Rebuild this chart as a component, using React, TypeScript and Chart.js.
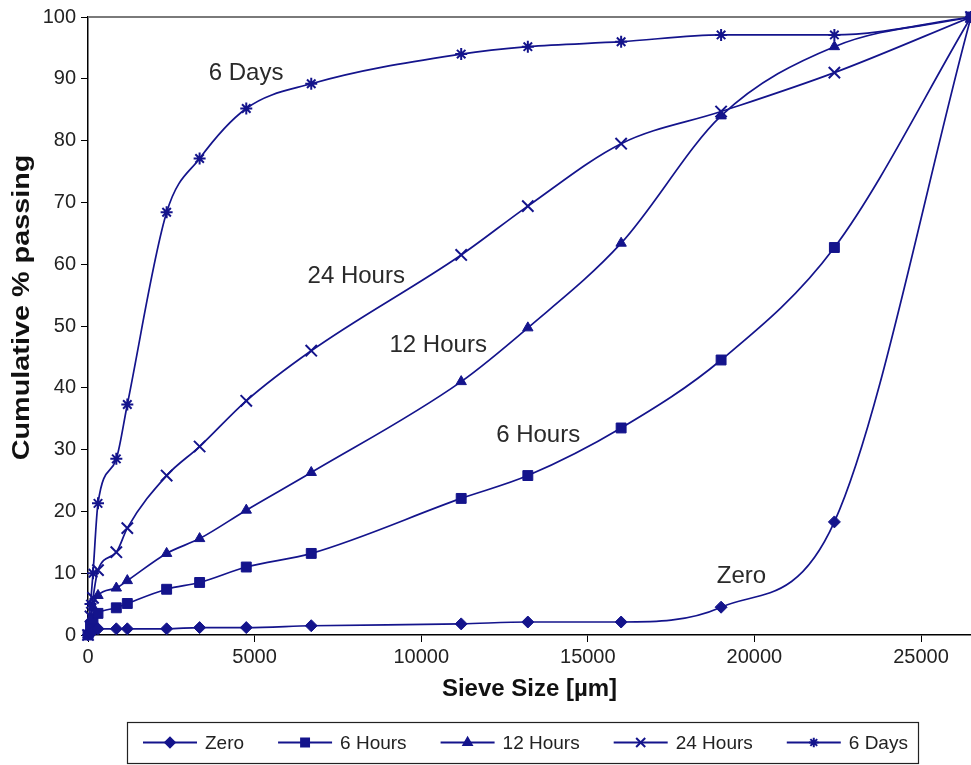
import { useEffect, useRef } from 'react';
import { Chart, registerables } from 'chart.js';
import { drawPoint } from 'chart.js/helpers';

Chart.register(...registerables);

// Sieve openings (µm) and cumulative % passing for each grinding time
const sieveSizes = [0, 75, 150, 300, 850, 1180, 2360, 3350, 4750, 6700, 11200, 13200, 16000, 19000, 22400, 26500];
const zero = [0, 0.3, 0.6, 1.0, 1.0, 1.0, 1.0, 1.2, 1.2, 1.5, 1.8, 2.1, 2.1, 4.5, 18.3, 100];
const sixHours = [0, 1.5, 2.5, 3.5, 4.4, 5.1, 7.4, 8.5, 11.0, 13.2, 22.1, 25.8, 33.5, 44.5, 62.7, 100];
const twelveHours = [0, 2.5, 4.5, 6.4, 7.6, 8.8, 13.2, 15.6, 20.2, 26.3, 41.0, 49.7, 63.4, 84.0, 95.2, 100];
const twentyFourHours = [0, 3.0, 6.0, 10.5, 13.4, 17.3, 25.8, 30.5, 37.9, 46.0, 61.5, 69.4, 79.5, 84.7, 91.0, 100];
const sixDays = [0, 5.0, 10.0, 21.3, 28.5, 37.3, 68.4, 77.1, 85.2, 89.2, 94.0, 95.2, 96.0, 97.1, 97.1, 100];

const seriesNames = ['Zero', '6 Hours', '12 Hours', '24 Hours', '6 Days'];
const seriesValues = [zero, sixHours, twelveHours, twentyFourHours, sixDays];
const seriesMarkers = ['rectRot', 'rect', 'triangle', 'crossRot', 'star'];
const markerRadius = [6, 7, 6, 8, 6];

// In-plot curve labels (data coordinates)
const curveLabelText = ['6 Days', '24 Hours', '12 Hours', '6 Hours', 'Zero'];
const curveLabelX = [4745, 8050, 10510, 13510, 19610];
const curveLabelY = [90.8, 58.1, 46.8, 32.3, 9.5];

const xAxisMax = 26500;
const xTickValues = [0, 5000, 10000, 15000, 20000, 25000];
const yTickValues = [0, 10, 20, 30, 40, 50, 60, 70, 80, 90, 100];
const yAxisTitle = 'Cumulative % passing';
const xAxisTitle = 'Sieve Size [µm]';

const NAVY = '#14148c';
const FONT = '"Liberation Sans", Arial, sans-serif';

const plotFrame = {
  id: 'plotFrame',
  beforeDatasetsDraw(chart: any) {
    const { ctx, chartArea } = chart;
    ctx.save();
    ctx.strokeStyle = '#7a7a7a';
    ctx.lineWidth = 2;
    ctx.beginPath();
    ctx.moveTo(chartArea.left, chartArea.top);
    ctx.lineTo(chartArea.right, chartArea.top);
    ctx.stroke();
    ctx.restore();
  },
};

// Vertical axis title, drawn a little wider than the regular face
const yTitle = {
  id: 'yTitle',
  afterDraw(chart: any) {
    const { ctx, chartArea } = chart;
    const cy = chartArea.top + (chartArea.bottom - chartArea.top) * 0.47;
    ctx.save();
    ctx.font = `bold 24px ${FONT}`;
    ctx.fillStyle = '#111';
    ctx.textAlign = 'center';
    ctx.textBaseline = 'middle';
    ctx.translate(22, cy);
    ctx.rotate(-Math.PI / 2);
    ctx.scale(1.2, 1);
    ctx.fillText(yAxisTitle, 0, 0);
    ctx.restore();
  },
};

const curveLabels = {
  id: 'curveLabels',
  afterDatasetsDraw(chart: any) {
    const { ctx, scales } = chart;
    ctx.save();
    ctx.font = `24px ${FONT}`;
    ctx.fillStyle = '#2a2a2a';
    ctx.textAlign = 'center';
    ctx.textBaseline = 'middle';
    curveLabelText.forEach((t, i) => {
      ctx.fillText(t, scales.x.getPixelForValue(curveLabelX[i]), scales.y.getPixelForValue(curveLabelY[i]));
    });
    ctx.restore();
  },
};

const boxedLegend = {
  id: 'boxedLegend',
  afterDraw(chart: any) {
    const { ctx } = chart;
    const boxLeft = 127;
    const boxTop = 722;
    const boxRight = 918;
    const boxBottom = 763;
    const midY = (boxTop + boxBottom) / 2;
    const lineLen = 54;
    ctx.save();
    ctx.strokeStyle = '#222';
    ctx.lineWidth = 1.2;
    ctx.strokeRect(boxLeft + 0.5, boxTop + 0.5, boxRight - boxLeft, boxBottom - boxTop);
    ctx.font = `19px ${FONT}`;
    ctx.textBaseline = 'middle';
    let x = 143;
    chart.data.datasets.forEach((ds: any) => {
      ctx.strokeStyle = NAVY;
      ctx.fillStyle = NAVY;
      ctx.lineWidth = 2;
      ctx.beginPath();
      ctx.moveTo(x, midY);
      ctx.lineTo(x + lineLen, midY);
      ctx.stroke();
      drawPoint(ctx, { pointStyle: ds.pointStyle, radius: ds.pointRadius * 0.8, rotation: 0, borderWidth: 2 } as any, x + lineLen / 2, midY);
      const tx = x + lineLen + 8;
      ctx.fillStyle = '#222';
      ctx.fillText(ds.label, tx, midY + 1);
      x = tx + ctx.measureText(ds.label).width + 34;
    });
    ctx.restore();
  },
};

export default function App() {
  const canvasRef = useRef<HTMLCanvasElement>(null);

  useEffect(() => {
    const datasets = seriesNames.map((name, i) => ({
      label: name,
      data: sieveSizes.map((s, j) => ({ x: s, y: seriesValues[i][j] })),
      borderColor: NAVY,
      backgroundColor: NAVY,
      pointBackgroundColor: NAVY,
      pointBorderColor: NAVY,
      borderWidth: 1.7,
      pointBorderWidth: seriesMarkers[i] === 'crossRot' || seriesMarkers[i] === 'star' ? 2 : 1,
      pointStyle: seriesMarkers[i],
      pointRadius: markerRadius[i],
      cubicInterpolationMode: 'monotone' as const,
      clip: false as any,
    }));

    const chart = new Chart(canvasRef.current!, {
      type: 'line',
      data: { datasets },
      options: {
        animation: false,
        responsive: false,
        layout: { autoPadding: false, padding: { top: 15, right: 0, bottom: 55, left: 0 } },
        plugins: { legend: { display: false }, tooltip: { enabled: false } },
        scales: {
          x: {
            type: 'linear',
            min: 0,
            max: xAxisMax,
            ticks: {
              autoSkip: false,
              color: '#222',
              font: { size: 20, family: FONT },
              padding: 3,
              maxRotation: 0,
              callback: (v: any) => String(v),
            },
            afterBuildTicks: (s: any) => {
              s.ticks = xTickValues.map((v) => ({ value: v }));
            },
            grid: { drawOnChartArea: false, tickLength: 7, color: '#000' },
            border: { color: '#000', width: 1.5 },
            title: {
              display: true,
              text: xAxisTitle,
              color: '#111',
              font: { size: 24, weight: 'bold', family: FONT },
              padding: { top: 0, bottom: 6 },
            },
            afterFit: (s: any) => {
              s.height = 75;
            },
          },
          y: {
            min: 0,
            max: 100,
            ticks: { autoSkip: false, color: '#222', font: { size: 20, family: FONT }, padding: 5, callback: (v: any) => String(v) },
            afterBuildTicks: (s: any) => {
              s.ticks = yTickValues.map((v) => ({ value: v }));
            },
            grid: { drawOnChartArea: false, tickLength: 7, color: '#000' },
            border: { color: '#000', width: 1.5 },
            afterFit: (s: any) => {
              s.width = 88;
            },
          },
        },
      },
      plugins: [plotFrame, curveLabels, yTitle, boxedLegend],
    });

    return () => chart.destroy();
  }, []);

  return (
    <div style={{ position: 'absolute', left: 0, top: 0, width: 971, height: 765, background: '#fff' }}>
      <canvas ref={canvasRef} width={971} height={765} style={{ display: 'block' }} />
    </div>
  );
}
